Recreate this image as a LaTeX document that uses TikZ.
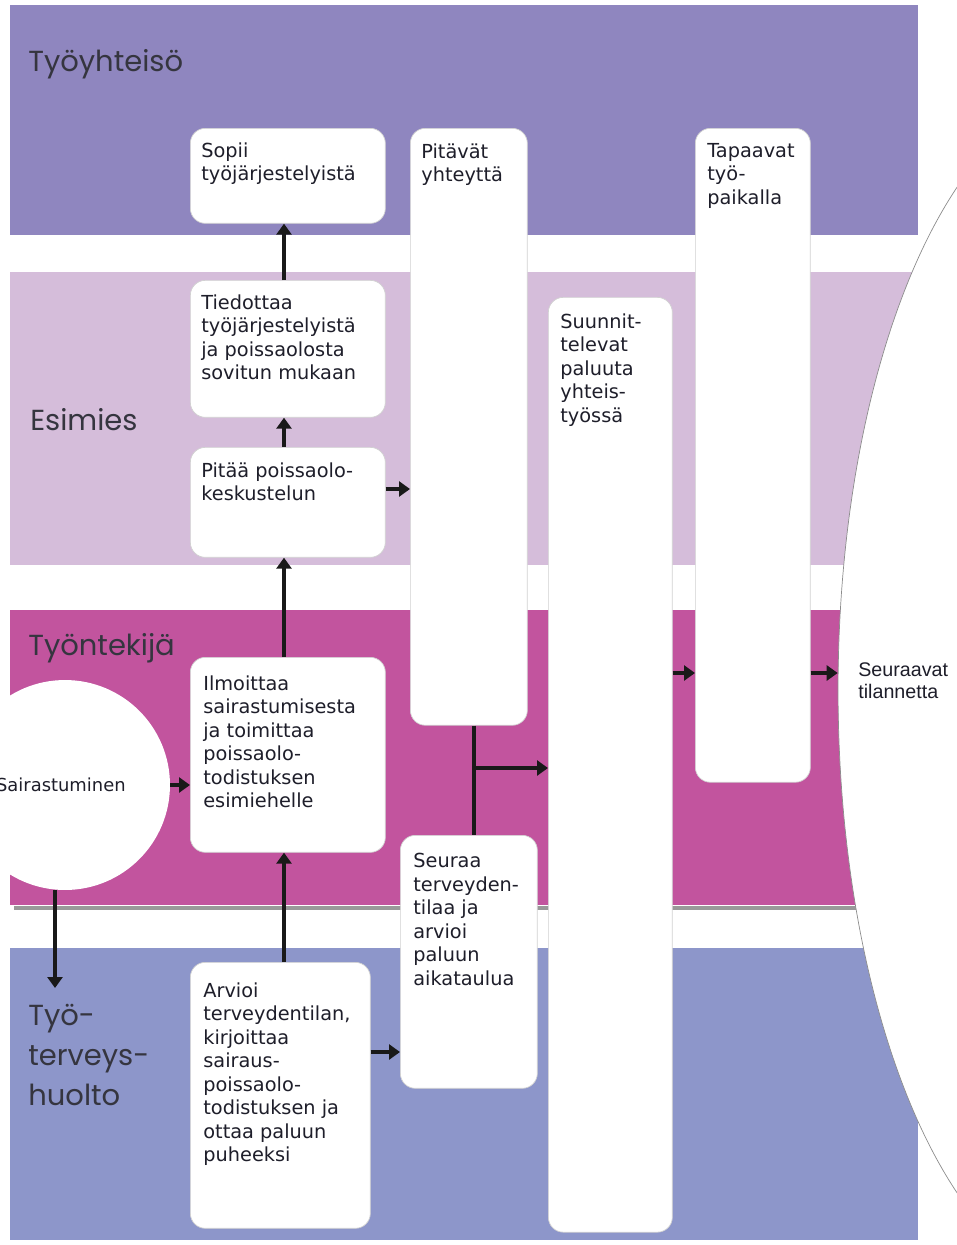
\documentclass[tikz,border=0pt]{standalone}
\usepackage{fontspec}
\setmainfont{DejaVu Sans}
\newfontfamily\arialfont{Liberation Sans}
\newfontfamily\lanefont{Poppins}
\usetikzlibrary{positioning,shapes.geometric,arrows.meta}
\definecolor{laneA}{RGB}{143,134,191}
\definecolor{laneB}{RGB}{213,189,218}
\definecolor{laneC}{RGB}{194,84,158}
\definecolor{laneD}{RGB}{141,150,202}
\definecolor{ink}{RGB}{30,30,42}

\begin{document}
\begin{tikzpicture}[x=0.02cm, y=-0.02cm,
  card/.style={draw=black!18, fill=white, rounded corners=0.3cm, inner sep=0pt, anchor=north west},
  txt/.style={align=left, inner sep=0pt, text=ink, font=\fontsize{11}{13.4}\selectfont},
  lane/.style={anchor=west, inner sep=0pt, text=ink!90, align=left, font=\lanefont\fontsize{16.5}{22.7}\selectfont},
  arr/.style={-{Triangle[length=0.22cm, width=0.3cm]}, line width=2pt, black!90},
  link/.style={line width=2pt, black!90}]
  \useasboundingbox (0,0) rectangle (957,1245);
  \clip (0,0) rectangle (957,1245);

  % swimlanes
  \fill[laneA] (10,5) rectangle (918,235);
  \fill[laneB] (10,272) rectangle (918,565);
  \fill[laneC] (10,610) rectangle (918,905);
  \fill[black!40] (14,906) rectangle (918,910);
  \fill[laneD] (10,948) rectangle (918,1240);

  \node[lane] (yhteiso) at (28,64) {Työyhteisö};
  \node[lane] (esimies) at (30,420) {Esimies};
  \node[lane] (tyontekija) at (28,648) {Työntekijä};
  \node[lane, anchor=north west] (tthlabel) at (28,1004) {Työ-\\terveys-\\huolto};

  % start and end
  \node[circle, fill=white, minimum size=4.2cm, inner sep=0pt] (sair) at (65,785) {};
  \node[anchor=east, inner sep=0pt, text=ink, font=\fontsize{10.2}{12}\selectfont] (sairT) at (126,785) {Sairastuminen};
  \node[ellipse, draw=black!45, fill=white, minimum width=10.48cm, minimum height=24cm, inner sep=0pt] (seur) at (1100,690) {};
  \node[anchor=north west, inner sep=0pt, align=left, text=ink, font=\arialfont\fontsize{11.2}{12.6}\selectfont] (seurT) at (858,662) {Seuraavat\\tilannetta};

  % tasks
  \node[card, minimum width=3.9cm, minimum height=1.9cm] (sopii) at (190,128) {};
  \node[card, minimum width=3.9cm, minimum height=2.74cm] (tied) at (190,280) {};
  \node[card, minimum width=3.9cm, minimum height=2.2cm] (pitaa) at (190,447) {};
  \node[card, minimum width=3.9cm, minimum height=3.9cm] (ilm) at (190,657) {};
  \node[card, minimum width=3.6cm, minimum height=5.32cm] (arv) at (190,962) {};
  \node[card, minimum width=2.34cm, minimum height=11.94cm] (pitav) at (410,128) {};
  \node[card, minimum width=2.74cm, minimum height=5.06cm] (seuraa) at (400,835) {};
  \node[card, minimum width=2.48cm, minimum height=18.7cm] (suunn) at (548,297) {};
  \node[card, minimum width=2.3cm, minimum height=13.08cm] (tapaa) at (695,128) {};

  \node[txt, below right=0.28cm and 0.22cm of sopii.north west] (sopiiT) {Sopii\\työjärjestelyistä};
  \node[txt, below right=0.28cm and 0.22cm of tied.north west] (tiedT) {Tiedottaa\\työjärjestelyistä\\ja poissaolosta\\sovitun mukaan};
  \node[txt, below right=0.3cm and 0.22cm of pitaa.north west] (pitaaT) {Pitää poissaolo-\\keskustelun};
  \node[txt, below right=0.36cm and 0.26cm of ilm.north west] (ilmT) {Ilmoittaa\\sairastumisesta\\ja toimittaa\\poissaolo-\\todistuksen\\esimiehelle};
  \node[txt, below right=0.4cm and 0.26cm of arv.north west] (arvT) {Arvioi\\terveydentilan,\\kirjoittaa\\sairaus-\\poissaolo-\\todistuksen ja\\ottaa paluun\\puheeksi};
  \node[txt, below right=0.3cm and 0.22cm of pitav.north west] (pitavT) {Pitävät\\yhteyttä};
  \node[txt, below right=0.36cm and 0.26cm of seuraa.north west] (seuraaT) {Seuraa\\terveyden-\\tilaa ja\\arvioi\\paluun\\aikataulua};
  \node[txt, below right=0.32cm and 0.24cm of suunn.north west] (suunnT) {Suunnit-\\televat\\paluuta\\yhteis-\\työssä};
  \node[txt, below right=0.3cm and 0.24cm of tapaa.north west] (tapaaT) {Tapaavat\\työ-\\paikalla};

  % flow
  \coordinate (col) at (284,0);
  \coordinate (tth) at (55,988);
  \coordinate (row1) at (0,489);
  \coordinate (row2) at (0,1052);
  \coordinate (row3) at (0,673);
  \coordinate (jn) at (474,768);
  \draw[arr] (tied.north -| col) -- (sopii.south -| col);
  \draw[arr] (pitaa.north -| col) -- (tied.south -| col);
  \draw[arr] (ilm.north -| col) -- (pitaa.south -| col);
  \draw[arr] (arv.north -| col) -- (ilm.south -| col);
  \draw[arr] (sair.east) -- (sair.east -| ilm.west);
  \draw[arr] (sair.south -| tth) -- (tth);
  \draw[arr] (pitaa.east |- row1) -- (pitav.west |- row1);
  \draw[arr] (arv.east |- row2) -- (seuraa.west |- row2);
  \draw[link] (pitav.south -| jn) -- (seuraa.north -| jn);
  \draw[arr] (jn) -- (suunn.west |- jn);
  \draw[arr] (suunn.east |- row3) -- (tapaa.west |- row3);
  \draw[arr] (tapaa.east |- row3) -- (seur.west |- row3);
\end{tikzpicture}
\end{document}
